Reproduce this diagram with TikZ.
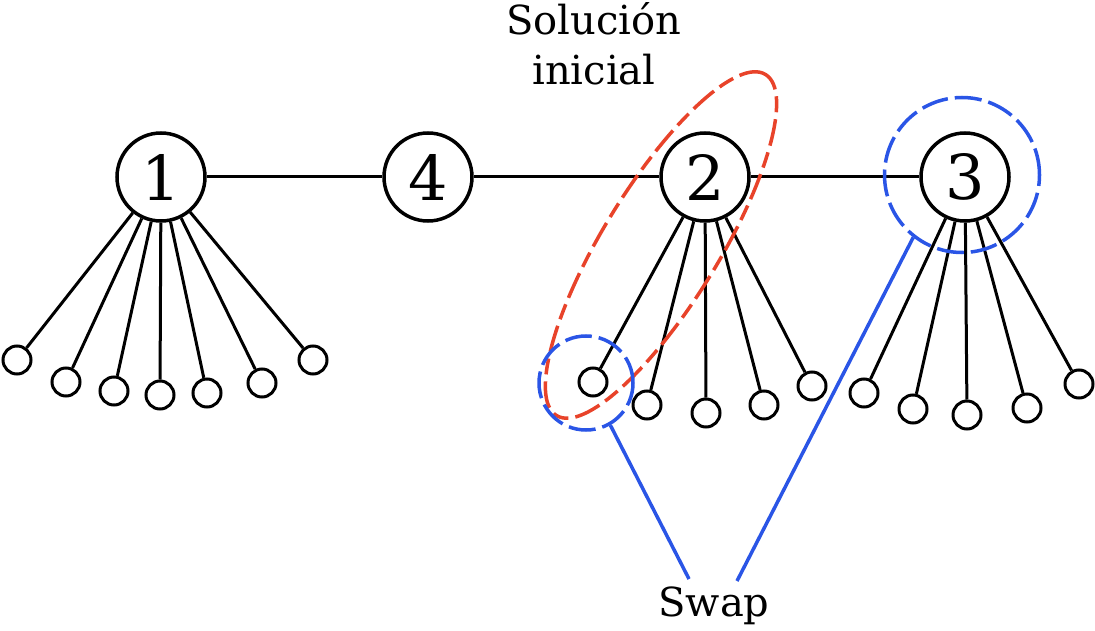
\documentclass[tikz,border=0pt]{standalone}
\usepackage{fontspec}
\setmainfont{DejaVu Serif}
\usetikzlibrary{positioning}
\definecolor{SwapBlue}{HTML}{2A55E6}
\definecolor{InitRed}{HTML}{E8432A}

\begin{document}
\begin{tikzpicture}[x=1pt,y=-1pt]
        \tikzset{
          bignode/.style={
            draw,
            circle,
            line width=3.5pt,
            minimum size=88pt,
            inner sep=0pt,
            font=\fontsize{62}{62}\selectfont
          },
          leaf/.style={
            draw,
            circle,
            line width=3pt,
            minimum size=28pt,
            inner sep=0pt
          },
          link/.style={line width=3pt},
          swapring/.style={draw=SwapBlue,line width=3.5pt,dash pattern=on 27pt off 7pt},
          solring/.style={draw=InitRed,line width=3.5pt,dash pattern=on 27pt off 7pt on 16pt off 7pt},
          swapline/.style={draw=SwapBlue,line width=3.5pt},
          caption/.style={font=\fontsize{40}{50}\selectfont,align=center}
        }
        \useasboundingbox (0,0) rectangle (1095,631);
        % main chain
        \node[bignode] (n1) at (161,177) {1};
        \node[bignode] (n4) at (428,177) {4};
        \node[bignode] (n2) at (705,177) {2};
        \node[bignode] (n3) at (965,177) {3};
        \draw[link] (n1) -- (n4);
        \draw[link] (n4) -- (n2);
        \draw[link] (n2) -- (n3);
        % leaves of 1
        \node[leaf] (a1) at (17,360) {};
        \node[leaf] (a2) at (66,382) {};
        \node[leaf] (a3) at (114,391) {};
        \node[leaf] (a4) at (160,395) {};
        \node[leaf] (a5) at (207,393) {};
        \node[leaf] (a6) at (262,383) {};
        \node[leaf] (a7) at (313,360) {};
        \draw[link] (n1) -- (a1);
        \draw[link] (n1) -- (a2);
        \draw[link] (n1) -- (a3);
        \draw[link] (n1) -- (a4);
        \draw[link] (n1) -- (a5);
        \draw[link] (n1) -- (a6);
        \draw[link] (n1) -- (a7);
        % leaves of 2
        \node[leaf] (b1) at (593,382) {};
        \node[leaf] (b2) at (647,405) {};
        \node[leaf] (b3) at (706,413) {};
        \node[leaf] (b4) at (764,405) {};
        \node[leaf] (b5) at (812,386) {};
        \draw[link] (n2) -- (b1);
        \draw[link] (n2) -- (b2);
        \draw[link] (n2) -- (b3);
        \draw[link] (n2) -- (b4);
        \draw[link] (n2) -- (b5);
        % leaves of 3
        \node[leaf] (c1) at (864,393) {};
        \node[leaf] (c2) at (913,409) {};
        \node[leaf] (c3) at (967,415) {};
        \node[leaf] (c4) at (1027,408) {};
        \node[leaf] (c5) at (1079,384) {};
        \draw[link] (n3) -- (c1);
        \draw[link] (n3) -- (c2);
        \draw[link] (n3) -- (c3);
        \draw[link] (n3) -- (c4);
        \draw[link] (n3) -- (c5);
        % initial solution and swap
        \draw[solring] (661,245) ellipse[x radius=200pt,y radius=58pt,rotate=58.5];
        \node[circle,swapring,minimum size=94pt,inner sep=0pt] (r1) at (586,383) {};
        \node[circle,swapring,minimum size=155pt,inner sep=0pt] (r3) at (962,175) {};
        \node[caption] (sol) at (594,44) {Solución\\inicial};
        \node[caption] (swp) at (714,606) {Swap};
        \coordinate (s1) at (689,579);
        \coordinate (s3) at (737,581);
        \draw[swapline] (r1.-60) -- (s1);
        \draw[swapline] (r3.-128) -- (s3);
      \end{tikzpicture}
\end{document}
